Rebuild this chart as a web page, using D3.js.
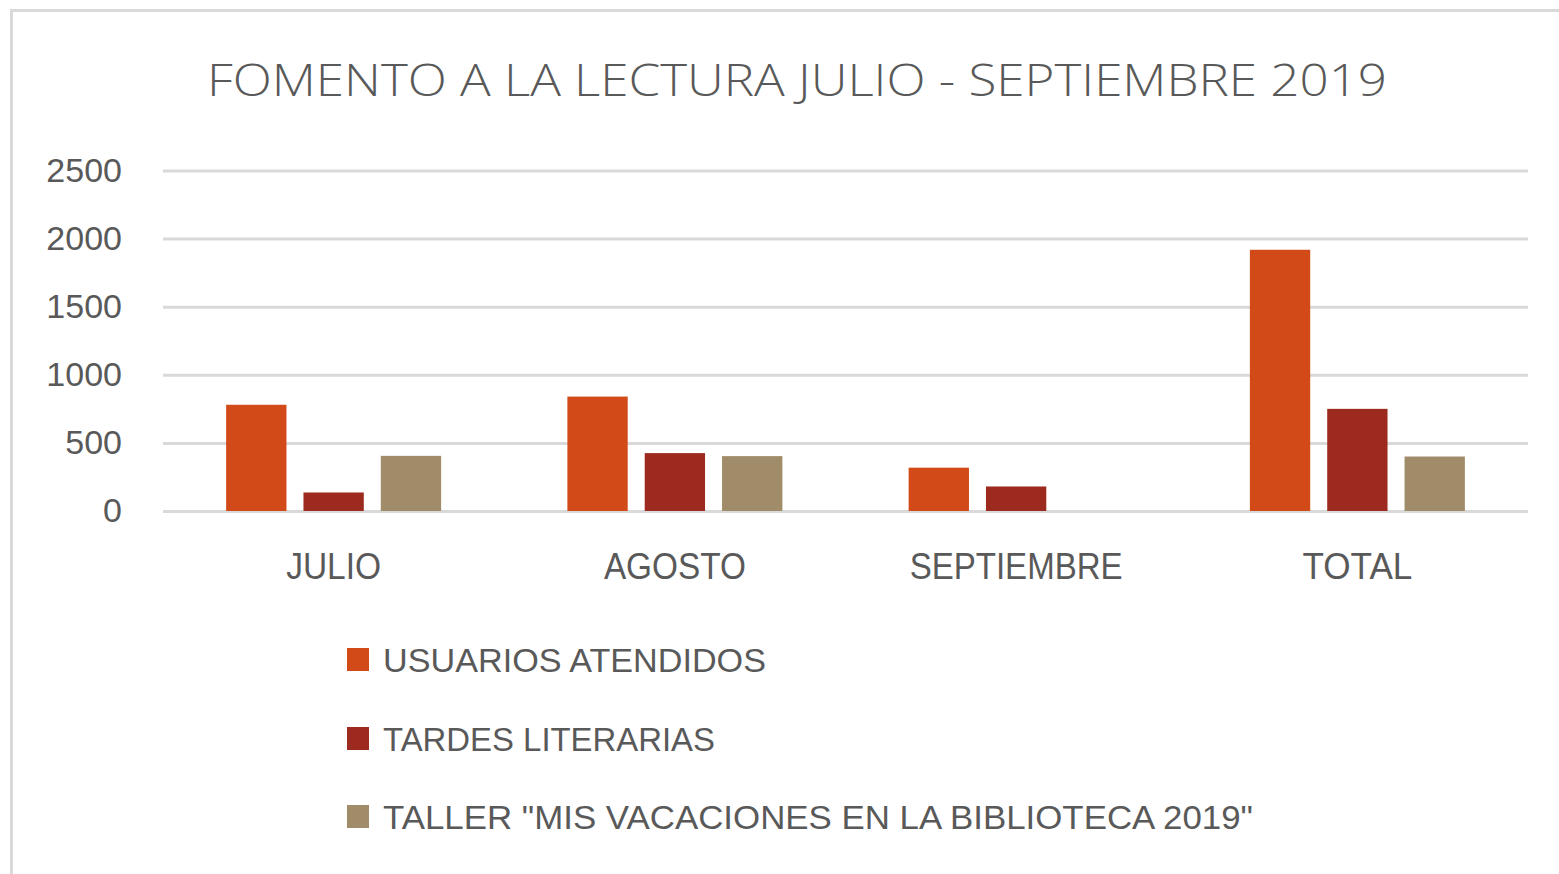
<!DOCTYPE html>
<html>
<head>
<meta charset="utf-8">
<script src="https://cdn.jsdelivr.net/npm/d3@7"></script>
<style>
  body { margin: 0; background: #fff; }
  svg text { font-family: "Liberation Sans", Arial, sans-serif; fill: #595959; }
</style>
</head>
<body>
<div class="container"></div>
<script>
var WIDTH = 1559, HEIGHT = 874;

// data
var categories = ["JULIO", "AGOSTO", "SEPTIEMBRE", "TOTAL"];
var seriesNames = ["USUARIOS ATENDIDOS", "TARDES LITERARIAS", "TALLER \"MIS VACACIONES EN LA BIBLIOTECA 2019\""];
var usuarios = [780, 840, 318, 1918];
var tardes = [136, 425, 180, 750];
var taller = [405, 403, 0, 400];
var yTicks = [0, 500, 1000, 1500, 2000, 2500];
var colors = ["#d24a17", "#9c2a1f", "#a18c6a"];

var seriesValues = [usuarios, tardes, taller];
var rows = categories.map(function(c, i){
    return {name: c, values: seriesValues.map(function(s, j){ return {key: j, value: s[i]}; })};
});

var svg = d3.select('.container').append('svg')
            .attr('width', WIDTH)
            .attr('height', HEIGHT);

// outer chart border (runs off right/bottom edge)
svg.append('rect')
   .attr('x', 11.5).attr('y', 10.5)
   .attr('width', WIDTH + 20).attr('height', HEIGHT + 20)
   .attr('fill', 'none')
   .attr('stroke', '#d9d9d9')
   .attr('stroke-width', 3);

svg.append('text')
   .attr('x', 207).attr('y', 96)
   .attr('textLength', 1180)
   .attr('lengthAdjust', 'spacingAndGlyphs')
   .style('font-size', '45px')
   .style('font-family', '"Open Sans", "Liberation Sans", sans-serif')
   .style('font-weight', 300)
   .text("FOMENTO A LA LECTURA  JULIO - SEPTIEMBRE 2019");

var _x0 = d3.scaleBand()
            .domain(categories)
            .range([163, 1528])
            .paddingInner(0.37)
            .paddingOuter(0.185);

var _x1 = d3.scaleBand()
            .domain(d3.range(seriesNames.length))
            .range([0, _x0.bandwidth()])
            .paddingInner(0.22);

var _y = d3.scaleLinear()
           .domain([0, 2500])
           .range([511, 170.5]);

// gridlines + y labels
var yAxis = svg.append('g')
   .attr('transform', 'translate(163,0)')
   .call(d3.axisLeft(_y).tickValues(yTicks).tickFormat(d3.format('d'))
           .tickSize(-1365).tickPadding(41));
yAxis.select('.domain').remove();
yAxis.selectAll('line').attr('stroke', '#d9d9d9').attr('stroke-width', 3);
yAxis.selectAll('text')
     .style('font-size', '34px')
     .attr('fill', '#595959');

// bars
var groups = svg.selectAll('g.cat').data(rows)
    .enter().append('g')
    .classed('cat', true)
    .attr('transform', function(d){ return 'translate(' + _x0(d.name) + ',0)'; });

groups.selectAll('rect').data(function(d){ return d.values; })
    .enter().append('rect')
    .attr('x', function(d){ return _x1(d.key); })
    .attr('width', _x1.bandwidth())
    .attr('y', function(d){ return _y(d.value); })
    .attr('height', function(d){ return _y(0) - _y(d.value); })
    .attr('fill', function(d){ return colors[d.key]; });

// category labels
var catWidths = {"JULIO": 95, "AGOSTO": 142, "SEPTIEMBRE": 213, "TOTAL": 110};
svg.selectAll('text.cat').data(categories)
    .enter().append('text')
    .classed('cat', true)
    .attr('x', function(d){ return _x0(d) + _x0.bandwidth() / 2 - catWidths[d] / 2; })
    .attr('y', 579)
    .attr('textLength', function(d){ return catWidths[d]; })
    .attr('lengthAdjust', 'spacingAndGlyphs')
    .style('font-size', '36px')
    .text(function(d){ return d; });

// legend
var legendWidths = [383, 332, 870];
var legend = svg.selectAll('g.legend').data(seriesNames)
    .enter().append('g')
    .classed('legend', true)
    .attr('transform', function(d, i){ return 'translate(347,' + [672, 751, 829][i] + ')'; });

legend.append('rect')
    .attr('x', 0).attr('y', -24)
    .attr('width', 22).attr('height', 23)
    .attr('fill', function(d, i){ return colors[i]; });

legend.append('text')
    .attr('x', 36).attr('y', 0)
    .attr('textLength', function(d, i){ return legendWidths[i]; })
    .attr('lengthAdjust', 'spacingAndGlyphs')
    .style('font-size', '34px')
    .text(function(d){ return d; });
</script>
</body>
</html>
